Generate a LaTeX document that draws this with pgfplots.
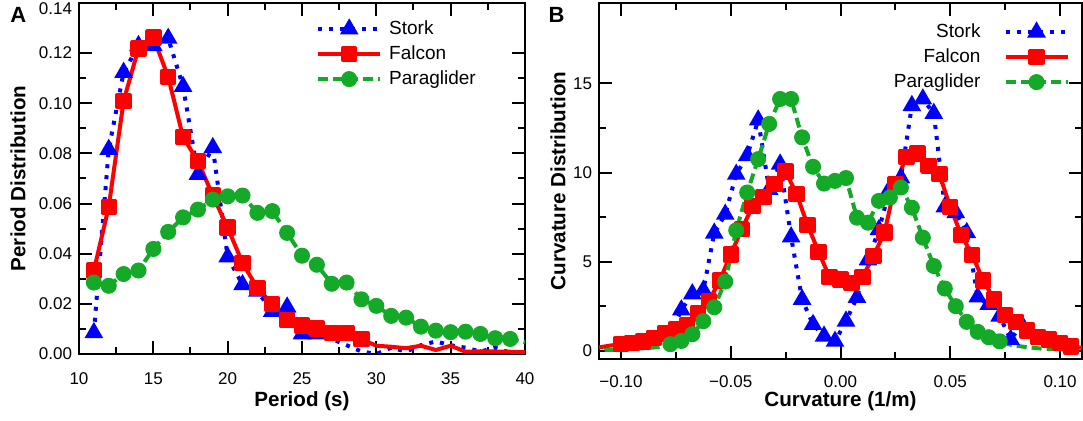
\documentclass[border=0pt]{standalone}
\usepackage{pgfplots}
\pgfplotsset{compat=1.18}
\usepackage{pgfplotstable}
\usepackage{fontspec}
\setmainfont{Liberation Sans}

\definecolor{storkblue}{RGB}{0,0,255}
\definecolor{falconred}{RGB}{255,0,0}
\definecolor{paragreen}{RGB}{20,170,40}

% panel A: period distribution, one row per second
\pgfplotstableread{
x  stork  falcon para
11 0.0085 0.0333 0.0285
12 0.0816 0.0587 0.0272
13 0.1123 0.1009 0.0319
14 0.1230 0.1219 0.0333
15 0.1230 0.1263 0.0419
16 0.1259 0.1105 0.0487
17 0.1067 0.0865 0.0545
18 0.0716 0.0769 0.0576
19 0.0823 0.0632 0.0616
20 0.0387 0.0504 0.0629
21 0.0276 0.0363 0.0632
22 0.0250 0.0263 0.0563
23 0.0170 0.0199 0.0570
24 0.0187 0.0136 0.0483
25 0.0080 0.0113 0.0392
26 0.0080 0.0101 0.0356
27 0.0060 0.0083 0.0280
28 0.0035 0.0083 0.0285
29 0.0010 0.0059 0.0218
30 0.0000 0.0033 0.0192
31 0.0025 0.0029 0.0152
32 0.0010 0.0023 0.0145
33 0.0035 0.0033 0.0109
34 0.0050 0.0016 0.0093
35 0.0035 0.0033 0.0087
36 0.0025 0.0009 0.0089
37 0.0010 0.0011 0.0080
38 0.0025 0.0010 0.0063
39 0.0005 0.0009 0.0060
40 0.0000 0.0007 0.0047
}\periodtab

% panel B: falcon sampled on 0.005 grid
\pgfplotstableread{
x      falcon
-0.110 0.20
-0.105 0.30
-0.100 0.38
-0.095 0.45
-0.090 0.54
-0.085 0.73
-0.080 0.98
-0.075 1.20
-0.070 1.43
-0.065 2.10
-0.060 2.79
-0.055 3.95
-0.050 5.41
-0.045 6.82
-0.040 8.13
-0.035 8.63
-0.030 9.35
-0.025 10.06
-0.020 8.79
-0.015 7.06
-0.010 5.56
-0.005 4.14
0.000 4.01
0.005 3.82
0.010 4.14
0.015 5.32
0.020 6.63
0.025 9.35
0.030 10.88
0.035 11.07
0.040 10.38
0.045 9.91
0.050 8.07
0.055 6.50
0.060 5.38
0.065 3.95
0.070 2.89
0.075 2.00
0.080 1.63
0.085 1.15
0.090 0.77
0.095 0.64
0.100 0.45
0.105 0.26
0.110 0.18
}\curvfalcon

% stork and paraglider sit half a bin over
\pgfplotstableread{
x       stork para
-0.1075 0.10  0.05
-0.1025 0.15  0.07
-0.0975 0.25  0.10
-0.0925 0.35  0.13
-0.0875 0.45  0.17
-0.0825 0.60  0.22
-0.0775 0.90  0.38
-0.0725 2.30  0.56
-0.0675 3.20  0.94
-0.0625 3.40  1.67
-0.0575 6.60  2.45
-0.0525 7.66  3.89
-0.0475 9.90  6.76
-0.0425 10.94 8.88
-0.0375 12.94 10.75
-0.0325 9.05  12.72
-0.0275 10.47 14.12
-0.0225 6.39  14.12
-0.0175 2.89  11.97
-0.0125 1.48  10.32
-0.0075 0.83  9.38
-0.0025 0.54  9.53
0.0025  1.67  9.69
0.0075  3.00  7.47
0.0125  5.10  7.19
0.0175  6.80  8.41
0.0225  9.10  8.60
0.0275  9.70  9.16
0.0325  13.75 8.03
0.0375  14.12 6.35
0.0425  13.31 4.76
0.0475  8.07  3.50
0.0525  7.75  2.51
0.0575  6.63  1.63
0.0625  3.02  1.07
0.0675  2.60  0.77
0.0725  1.95  0.54
0.0775  0.64  0.35
0.0825  1.48  0.25
0.0875  0.60  0.18
0.0925  0.45  0.12
0.0975  0.30  0.10
0.1025  0.25  0.08
0.1075  0.20  0.07
}\curvother

\newcommand\labfont{\fontsize{10.3bp}{12bp}\selectfont\bfseries}

\pgfplotsset{
  panel/.style={
    scale only axis,
    axis line style={line width=1.4bp},
    every tick/.style={black, line width=1bp},
    major tick length=6.5bp, minor tick length=3.5bp,
    tick align=inside,
    tick label style={font=\fontsize{8.5bp}{10bp}\selectfont},
    /pgf/number format/assume math mode=true,
    legend style={draw=none, fill=none, inner sep=0pt, row sep=0.5bp,
      font=\fontsize{9.5bp}{11bp}\selectfont,
      nodes={text height=7bp, text depth=2bp, inner sep=1.5bp}},
    legend image code/.code={
      \draw[mark indices={2}] plot coordinates {(0bp,0bp) (15.5bp,0bp) (31bp,0bp)};},
  },
  stork/.style={color=storkblue, line width=2bp, dash pattern=on 2bp off 3.5bp,
    mark=triangle*, mark size=3.4bp, mark options={solid}},
  falcon/.style={color=falconred, line width=2bp, line join=round,
    mark=square*, mark size=3.1bp, mark options={solid}},
  para/.style={color=paragreen, line width=2bp, dash pattern=on 5bp off 2.5bp,
    mark=*, mark size=3bp, mark options={solid}},
}

\begin{document}
\begin{tikzpicture}

\begin{axis}[panel,
  at={(39.5bp,33.5bp)}, anchor=south west,
  width=223bp, height=175.5bp,
  xmin=10, xmax=40, ymin=0, ymax=0.14,
  xtick={10,15,...,40}, minor x tick num=1,
  xticklabel style={yshift=-6bp},
  ytick={0,0.02,...,0.12}, minor y tick num=1,
  extra y ticks={0.14},
  extra y tick style={yticklabel style={yshift=-3bp}},
  scaled y ticks=false,
  yticklabel style={/pgf/number format/fixed, /pgf/number format/fixed zerofill,
    /pgf/number format/precision=2},
  xlabel={Period (s)}, ylabel={Period Distribution},
  every axis x label/.style={at={(axis description cs:0.5,-0.134)}, anchor=center, font=\labfont},
  every axis y label/.style={at={(axis description cs:-0.137,0.5)}, anchor=center, rotate=90, font=\labfont},
  legend cell align=left,
  legend style={at={(axis description cs:0.531,0.961)}, anchor=north west,
    /tikz/every odd column/.style={column sep=2bp}},
]
\addplot[stork, mark indices={1,...,16}] table[x=x, y=stork] {\periodtab};
\addplot[falcon, mark indices={1,...,19}] table[x=x, y=falcon] {\periodtab};
\addplot[para, mark indices={1,...,29}] table[x=x, y=para] {\periodtab};
\legend{Stork, Falcon, Paraglider}
\end{axis}

\begin{axis}[panel,
  at={(299.5bp,31bp)}, anchor=south west,
  width=241.5bp, height=178bp,
  xmin=-0.11, xmax=0.11, ymin=-0.45, ymax=19.5,
  xtick={-0.1,-0.05,0,0.05,0.1},
  xticklabels={−0.10,−0.05,0.00,0.05,0.10},
  xticklabel style={yshift=-5bp},
  minor x tick num=1,
  ytick={0,5,10,15}, minor y tick num=1,
  xlabel={Curvature (1/m)}, ylabel={Curvature Distribution},
  every axis x label/.style={at={(axis description cs:0.5,-0.118)}, anchor=center, font=\labfont},
  every axis y label/.style={at={(axis description cs:-0.085,0.5)}, anchor=center, rotate=90, font=\labfont},
  legend plot pos=right, legend cell align=right,
  legend style={at={(axis description cs:0.975,0.953)}, anchor=north east,
    /tikz/every odd column/.style={column sep=10bp}},
]
\addplot[stork, mark indices={8,...,39}] table[x=x, y=stork] {\curvother};
\addplot[falcon, mark indices={3,...,44}] table[x=x, y=falcon] {\curvfalcon};
\addplot[para, mark indices={7,...,37}] table[x=x, y=para] {\curvother};
\legend{Stork, Falcon, Paraglider}
\end{axis}

\node[font=\fontsize{11bp}{13bp}\selectfont\bfseries] at (9.2bp,203bp) {A};
\node[font=\fontsize{11bp}{13bp}\selectfont\bfseries] at (278.3bp,203bp) {B};

\pgfresetboundingbox
\useasboundingbox (0,0) rectangle (541.5bp,210.5bp);
\end{tikzpicture}
\end{document}
